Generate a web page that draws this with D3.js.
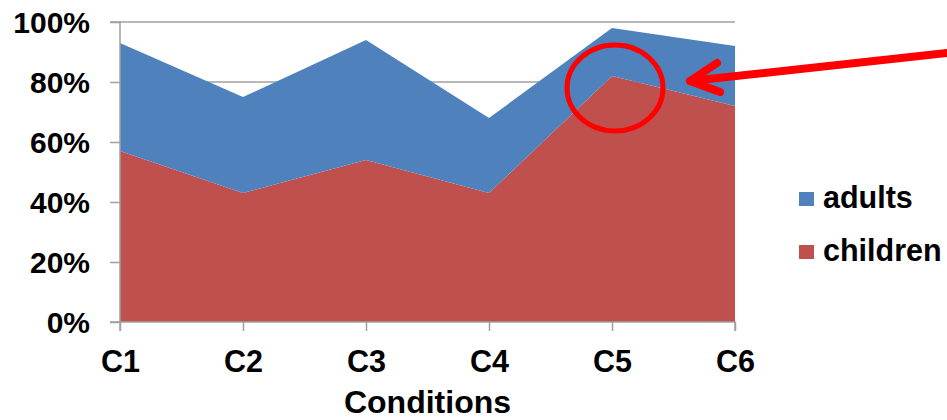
<!DOCTYPE html>
<html><head><meta charset="utf-8">
<script src="https://cdn.jsdelivr.net/npm/d3@7"></script>
<style>html,body{margin:0;padding:0;background:#fff;}svg{display:block;}</style>
</head><body>
<svg id="chart" width="947" height="420"></svg>
<script>
const categories = ["C1","C2","C3","C4","C5","C6"];
const children = [57, 43, 54, 43, 82, 72];
const adults = [36, 32, 40, 25, 16, 20];
const seriesNames = ["children","adults"];
const legendNames = ["adults","children"];
const yTicks = [0, 20, 40, 60, 80, 100];
const xTitle = "Conditions";
const colors = {adults:"#4F81BD", children:"#C0504D"};

const svg = d3.select("#chart");
const font = "'Liberation Sans', Arial, sans-serif";
const mLeft = 120, mRight = 735, mTop = 22, mBottom = 322;

const x = d3.scalePoint().domain(categories).range([mLeft, mRight]);
const y = d3.scaleLinear().domain([0, 100]).range([mBottom, mTop]);

const rows = categories.map((c, i) => ({cat: c, children: children[i], adults: adults[i]}));
const stacked = d3.stack().keys(seriesNames)(rows);

// gridlines
svg.append("g").selectAll("line").data(yTicks.filter(t => t > 0)).join("line")
  .attr("x1", mLeft).attr("x2", mRight)
  .attr("y1", d => y(d)).attr("y2", d => y(d))
  .attr("stroke", "#a0a0a0").attr("stroke-width", 1.5);

const area = d3.area().x(d => x(d.data.cat)).y0(d => y(d[0])).y1(d => y(d[1]));
svg.append("g").selectAll("path").data(stacked).join("path")
  .attr("d", area).attr("fill", d => colors[d.key]);

// y axis
const yAxis = d3.axisLeft(y).tickValues(yTicks).tickSize(10).tickFormat(d => d + "%");
const gy = svg.append("g").attr("transform", `translate(${mLeft},0)`).call(yAxis);
gy.select(".domain").attr("stroke", "#a0a0a0").attr("stroke-width", 1.5).attr("d", `M-10,${mTop}H0V${mBottom}H-10`);
gy.selectAll(".tick line").attr("stroke", "#a0a0a0").attr("stroke-width", 1.5);
gy.selectAll(".tick text").attr("x", -30).attr("dy", "0.35em")
  .style("font-family", font).style("font-size", "30px").style("font-weight", "bold").attr("fill", "#000");

// x axis
const xAxis = d3.axisBottom(x).tickSize(9);
const gx = svg.append("g").attr("transform", `translate(0,${mBottom})`).call(xAxis);
gx.select(".domain").attr("stroke", "#a0a0a0").attr("stroke-width", 1.5).attr("d", `M${mLeft},9V0H${mRight}V9`);
gx.selectAll(".tick line").attr("stroke", "#a0a0a0").attr("stroke-width", 1.5);
gx.selectAll(".tick text").attr("y", 50).attr("dy", 0)
  .style("font-family", font).style("font-size", "30.5px").style("font-weight", "bold").attr("fill", "#000");

svg.append("text").attr("x", (mLeft + mRight) / 2).attr("y", 413).attr("text-anchor", "middle")
  .style("font-family", font).style("font-size", "32px").style("font-weight", "bold").text(xTitle);

// legend
const lg = svg.append("g").selectAll("g").data(legendNames).join("g")
  .attr("transform", (d, i) => `translate(799,${192 + i * 53})`);
lg.append("rect").attr("width", 15).attr("height", 14).attr("fill", d => colors[d]);
lg.append("text").attr("x", 24).attr("y", 16)
  .style("font-family", font).style("font-size", "30.5px").style("font-weight", "bold").text(d => d);

// annotation
svg.append("ellipse").attr("cx", x("C5") + 3).attr("cy", y(78)).attr("rx", 48).attr("ry", 43)
  .attr("fill", "none").attr("stroke", "#ff0000").attr("stroke-width", 5);
svg.append("path").attr("d", "M947,53 L690,81 M717,63 L690,81 L720,92")
  .attr("fill", "none").attr("stroke", "#ff0000").attr("stroke-width", 8)
  .attr("stroke-linecap", "round").attr("stroke-linejoin", "round");
</script>
</body></html>
